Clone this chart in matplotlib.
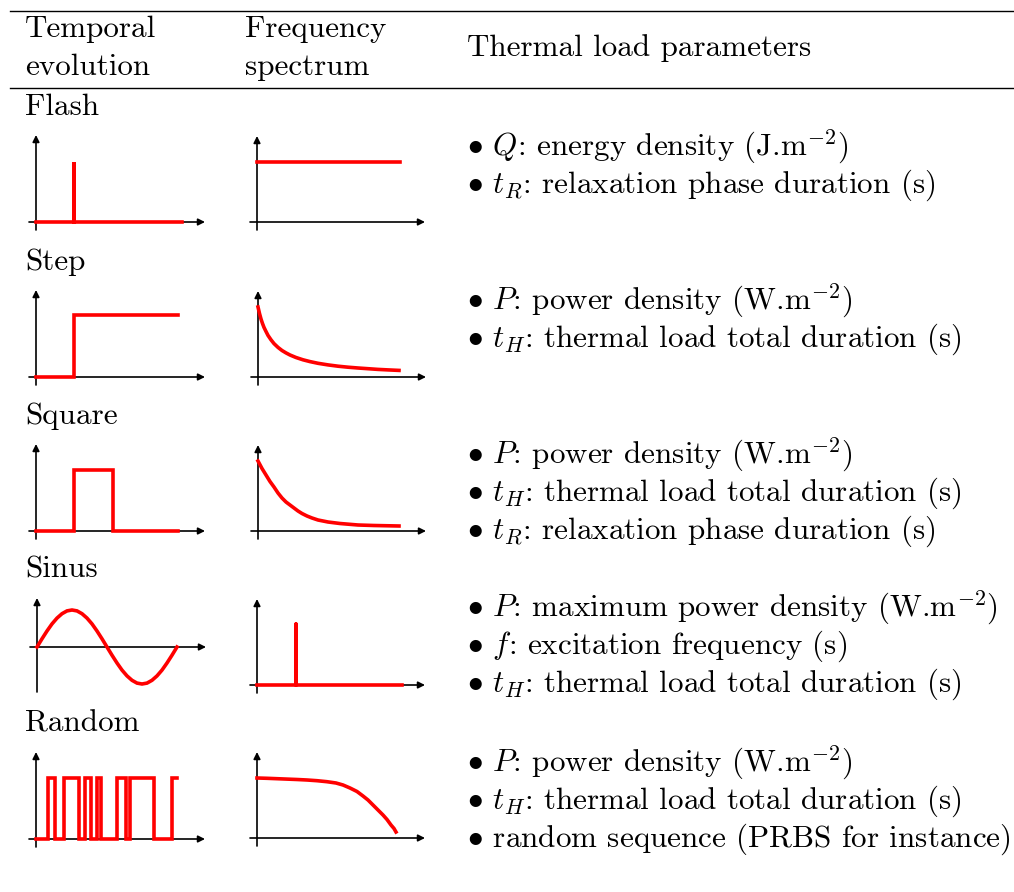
import matplotlib
matplotlib.use("Agg")
import matplotlib.pyplot as plt
from matplotlib.lines import Line2D

plt.rcParams['font.family'] = 'cmr10'
plt.rcParams['mathtext.fontset'] = 'cm'
plt.rcParams['axes.unicode_minus'] = False

W, H = 1014, 892
FS = 22.4
RED = '#ff0000'

###################################     DATA     ######################################

row_names = ['Flash', 'Step', 'Square', 'Sinus', 'Random']
header_1 = ['Temporal', 'evolution']
header_2 = ['Frequency', 'spectrum']
header_3 = 'Thermal load parameters'

params = [
    [r'$\bullet$ $Q$: energy density (J.m$^{-2}$)',
     r'$\bullet$ $t_R$: relaxation phase duration (s)'],
    [r'$\bullet$ $P$: power density (W.m$^{-2}$)',
     r'$\bullet$ $t_H$: thermal load total duration (s)'],
    [r'$\bullet$ $P$: power density (W.m$^{-2}$)',
     r'$\bullet$ $t_H$: thermal load total duration (s)',
     r'$\bullet$ $t_R$: relaxation phase duration (s)'],
    [r'$\bullet$ $P$: maximum power density (W.m$^{-2}$)',
     r'$\bullet$ $f$: excitation frequency (s)',
     r'$\bullet$ $t_H$: thermal load total duration (s)'],
    [r'$\bullet$ $P$: power density (W.m$^{-2}$)',
     r'$\bullet$ $t_H$: thermal load total duration (s)',
     r'$\bullet$ random sequence (PRBS for instance)'],
]

# temporal signals (arbitrary units)
flash_t = [0, 38, 38, 38, 146]
flash_y = [0, 0, 60, 0, 0]
step_t = [0, 38, 38, 142]
step_y = [0, 0, 62, 62]
square_t = [0, 38, 38, 77, 77, 142]
square_y = [0, 0, 61, 61, 0, 0]
sinus_t = [0, 5, 10, 15, 20, 25, 30, 35, 40, 45, 50, 55, 60, 65, 70,
           75, 80, 85, 90, 95, 100, 105, 110, 115, 120, 125, 130, 135, 140]
sinus_y = [0, 8.2, 16, 23.1, 28.9, 33.3, 36.1, 37, 36.1, 33.3, 28.9, 23.1, 16, 8.2, 0,
           -8.2, -16, -23.1, -28.9, -33.3, -36.1, -37, -36.1, -33.3, -28.9, -23.1, -16, -8.2, 0]
random_t = [0, 11.7, 19, 28.3, 43, 49, 55, 60.7, 65, 80.7, 90, 94, 118, 135.7, 141]
random_y = [0, 61, 0, 61, 0, 61, 0, 61, 0, 61, 0, 61, 0, 61, 61]

# spectra (arbitrary units)
flash_f = [0, 143]
flash_a = [60, 60]
step_f = [0, 1.5, 3, 4.5, 6, 8, 10, 13, 16, 20, 24, 28, 32, 38, 45, 52, 60, 70, 80, 90, 100, 110, 120, 130, 141]
step_a = [70, 63.5, 58, 53.5, 49.6, 45.5, 41.6, 37.2, 33.4, 29.6, 26.5, 24.1, 22, 19.5, 17.2, 15.4, 13.7, 12.1,
          10.8, 9.8, 9.0, 8.3, 7.6, 7.1, 6.6]
square_f = [0, 4, 8, 12, 16, 20, 24, 28, 32, 36, 40, 44, 49, 54, 60, 70, 82, 100, 116, 141]
square_a = [70, 62.5, 56, 49.5, 44, 38, 33, 29, 26, 23, 20, 17.5, 15, 13, 11, 9, 7.5, 6, 5.5, 5]
sinus_f = [0, 39, 39, 39, 145]
sinus_a = [0, 0, 61, 0, 0]
random_f = [0, 10, 20, 30, 40, 50, 60, 70, 79, 86, 93, 100, 106, 111, 116, 121, 126, 130, 134, 137, 139]
random_a = [60, 59.7, 59.3, 58.9, 58.5, 58, 57.3, 56.3, 55, 53, 50, 46.5, 42, 38, 33, 28, 23, 18.5, 13, 9.5, 6]


###################################     LAYOUT     ######################################

fig = plt.figure(figsize=(W / 100, H / 100), dpi=100)


def txt(x, y, s, **kw):
    fig.text(x / W, 1 - y / H, s, fontsize=FS, va='baseline', ha='left', **kw)


def arrow(ax, p0, p1):
    ax.annotate('', xy=p1, xytext=p0, xycoords='data',
                arrowprops=dict(arrowstyle='-|>', color='black', lw=1.2,
                                mutation_scale=10, shrinkA=0, shrinkB=0),
                annotation_clip=False)


def small_axes(ox, oy, x0, x1, y0, y1):
    pad = 5
    rect = [(ox + x0 - pad) / W, (H - oy + y0 - pad) / H,
            (x1 - x0 + 2 * pad) / W, (y1 - y0 + 2 * pad) / H]
    ax = fig.add_axes(rect)
    ax.set_xlim(x0 - pad, x1 + pad)
    ax.set_ylim(y0 - pad, y1 + pad)
    ax.axis('off')
    arrow(ax, (x0, 0), (x1, 0))
    arrow(ax, (0, y0), (0, y1))
    return ax


# horizontal rules
fig.add_artist(Line2D([10 / W, 1.0], [1 - 11 / H] * 2, color='black', lw=1.0))
fig.add_artist(Line2D([10 / W, 1.0], [1 - 88 / H] * 2, color='black', lw=1.0))

# header
txt(25, 37, header_1[0])
txt(25, 75, header_1[1])
txt(245, 37, header_2[0])
txt(245, 75, header_2[1])
txt(467, 56, header_3)

row_label_y = [115, 270, 424, 577, 732]
first_line_y = [155, 309, 463, 616, 771]
for name, ly, fy, lines in zip(row_names, row_label_y, first_line_y, params):
    txt(25, ly, name)
    for i, s in enumerate(lines):
        txt(467, fy + 38 * i, s)

temporal = [(flash_t, flash_y, False), (step_t, step_y, False), (square_t, square_y, False),
            (sinus_t, sinus_y, False), (random_t, random_y, True)]
spectra = [(flash_f, flash_a), (step_f, step_a), (square_f, square_a),
           (sinus_f, sinus_a), (random_f, random_a)]

t_origin = [(36, 222), (36, 377), (36, 531), (37, 647), (36, 839)]
f_origin = [(257, 222), (258, 377), (258, 531), (257, 685), (257, 838)]

for k in range(5):
    ox, oy = t_origin[k]
    if k == 3:
        ax = small_axes(ox, oy, -7, 169, -45, 49)
    else:
        ax = small_axes(ox, oy, -7, 169, -8, 87)
    t, y, steps = temporal[k]
    ax.plot(t, y, color=RED, lw=2.6, drawstyle='steps-post' if steps else 'default',
            solid_joinstyle='miter', zorder=5)

    ox, oy = f_origin[k]
    ax = small_axes(ox, oy, -7, 168, -8, 86)
    f, a = spectra[k]
    ax.plot(f, a, color=RED, lw=2.6, solid_joinstyle='round', zorder=5)

fig.savefig('out.png', dpi=100)
